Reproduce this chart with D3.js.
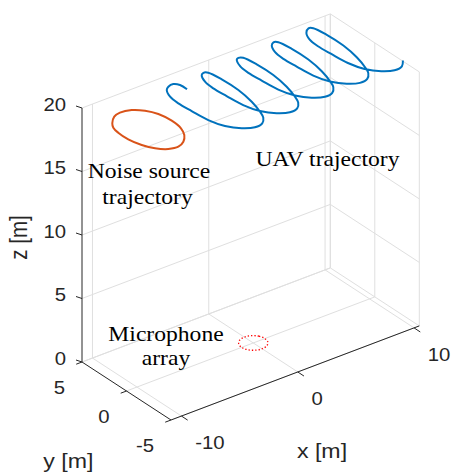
<!DOCTYPE html>
<html>
<head>
<meta charset="utf-8">
<script src="https://cdn.jsdelivr.net/npm/d3@7"></script>
<style>
  body { margin: 0; background: #fff; }
  svg { display: block; }
</style>
</head>
<body>
<div id="chart"></div>
<script>
// Axis limits and ticks
const xLim = [-10.9, 10.45]
const yLim = [-5, 5]
const zLim = [0, 20]
const xTicks = [-10, 0, 10]
const yTicks = [-5, 0, 5]
const zTicks = [0, 5, 10, 15, 20]

// UAV trajectory (flown at constant altitude)
const uavAltitude = 20
const uavX = [-3.63, -3.65, -3.94, -4.43,
  -4.79, -5.17, -5.27, -5.19, -5.04, -4.63, -3.91, -3.11, -2.38, -1.84, -1.53, -1.15, -0.90, -0.91, -1.09, -1.36,
  -1.64, -2.02, -2.12, -2.04, -1.89, -1.48, -0.76, 0.04, 0.77, 1.31, 1.62, 2.00, 2.25, 2.24, 2.06, 1.79,
  1.56, 1.18, 1.08, 1.16, 1.31, 1.72, 2.44, 3.24, 3.97, 4.51, 4.82, 5.20, 5.45, 5.44, 5.26, 4.99,
  4.63, 4.25, 4.15, 4.23, 4.38, 4.79, 5.51, 6.31, 7.04, 7.58, 7.89, 8.27, 8.52, 8.51, 8.33, 8.06,
  7.56, 7.18, 7.08, 7.16, 7.31, 7.72, 8.44, 9.24, 9.97, 10.51]
const uavY = [2.70, 3.46, 3.84, 3.75,
  3.46, 2.59, 1.53, 0.14, -1.53, -2.87, -3.81, -4.25, -4.12, -3.53, -2.76, -1.33, 0.50, 2.35, 3.63, 3.82,
  3.65, 2.78, 1.72, 0.33, -1.34, -2.68, -3.62, -4.06, -3.93, -3.34, -2.57, -1.14, 0.69, 2.54, 3.82, 4.01,
  3.89, 3.02, 1.96, 0.57, -1.10, -2.44, -3.38, -3.82, -3.69, -3.10, -2.33, -0.90, 0.93, 2.78, 4.06, 4.25,
  3.97, 3.10, 2.04, 0.65, -1.02, -2.36, -3.30, -3.74, -3.61, -3.02, -2.25, -0.82, 1.01, 2.86, 4.14, 4.33,
  3.91, 3.04, 1.98, 0.59, -1.08, -2.42, -3.36, -3.80, -3.67, -3.08]

// Noise source trajectory (closed loop)
const noiseAltitude = 20
const noiseX = [-10.53, -9.87, -9.23, -8.37, -7.70, -7.25, -7.08, -7.21, -7.59, -8.20, -8.89, -9.63, -10.29, -10.74, -11.00, -10.99, -10.84]
const noiseY = [2.08, 2.72, 2.92, 2.73, 2.10, 1.19, -0.09, -1.30, -2.17, -2.86, -3.20, -3.04, -2.41, -1.50, -0.33, 0.81, 1.56]

// Microphone array (circle on the floor)
const micZ = 0
const micX = [1, 0.87, 0.5, 0, -0.5, -0.87, -1, -0.87, -0.5, 0, 0.5, 0.87]
const micY = [0, 0.5, 0.87, 1, 0.87, 0.5, 0, -0.5, -0.87, -1, -0.87, -0.5]

var width = 452
var height = 473

// 3D box projection: origin at (xmin, ymax, 0), one screen vector per axis
const origin = [82, 362]
const vx = [248.3, -94.1]
const vy = [89, 58]
const vz = [0, -254]
const stretch = 1.13

const xS = d3.scaleLinear().domain(xLim).range([0, 1])
const yS = d3.scaleLinear().domain([yLim[1], yLim[0]]).range([0, 1])
const zS = d3.scaleLinear().domain(zLim).range([0, 1])

const P = (x, y, z) => {
  const a = xS(x), b = yS(y), c = zS(z)
  return [origin[0] + a * vx[0] + b * vy[0] + c * vz[0],
          origin[1] + a * vx[1] + b * vy[1] + c * vz[1]]
}

var svg = d3.select('#chart')
  .append('svg')
  .attr('width', width)
  .attr('height', height)

const seg = (g, p, q, color, w) => g.append('line')
  .attr('x1', p[0]).attr('y1', p[1]).attr('x2', q[0]).attr('y2', q[1])
  .attr('stroke', color).attr('stroke-width', w)

// grid on the back walls and floor
const grid = svg.append('g')
const gc = '#dfdfdf'
const [x0, x1] = xLim, [y0, y1] = yLim, [z0, z1] = zLim
xTicks.forEach(x => {
  seg(grid, P(x, y1, z0), P(x, y1, z1), gc, 1)
  seg(grid, P(x, y1, z0), P(x, y0, z0), gc, 1)
})
yTicks.forEach(y => {
  seg(grid, P(x1, y, z0), P(x1, y, z1), gc, 1)
  seg(grid, P(x0, y, z0), P(x1, y, z0), gc, 1)
})
zTicks.forEach(z => {
  seg(grid, P(x0, y1, z), P(x1, y1, z), gc, 1)
  seg(grid, P(x1, y1, z), P(x1, y0, z), gc, 1)
})
seg(grid, P(x1, y1, z0), P(x1, y1, z1), gc, 1)

// axes
const ac = '#262626'
const axes = svg.append('g')
seg(axes, P(x0, y1, z0), P(x0, y1, z1), ac, 1)
seg(axes, P(x0, y1, z0), P(x0, y0, z0), ac, 1)
seg(axes, P(x0, y0, z0), P(x1, y0, z0), ac, 1)

const tickFont = 'Liberation Sans, Arial, Helvetica, sans-serif'
const label = (txt, p, anchor, size, rot) => svg.append('text')
  .attr('transform', `translate(${p[0]},${p[1]}) scale(${stretch},1)` + (rot ? ` rotate(${rot})` : ''))
  .attr('text-anchor', anchor)
  .attr('font-family', tickFont)
  .attr('font-size', size)
  .attr('fill', ac)
  .text(txt)

zTicks.forEach(z => {
  const p = P(x0, y1, z)
  seg(axes, p, [p[0] - 6, p[1] - 2], ac, 1)
  label(String(z), [p[0] - 16, p[1] + 2.5], 'end', 18)
})
yTicks.forEach(y => {
  const p = P(x0, y, z0)
  seg(axes, p, [p[0] - 5.8, p[1] + 2.2], ac, 1)
  label(String(y), [p[0] - 17, p[1] + 31.5], 'end', 18)
})
xTicks.forEach(x => {
  const p = P(x, y0, z0)
  seg(axes, p, [p[0] + 6.2, p[1] + 4.1], ac, 1)
  label(String(x), [p[0] + 13.7, p[1] + 33.3], 'start', 18)
})

label('x [m]', [322, 458.4], 'middle', 20.5)
label('y [m]', [68.3, 468.2], 'middle', 20.5)
label('z [m]', [26.8, 237.5], 'middle', 20.5, -90)

// trajectories
const line3 = (xs, ys, z, curve) => d3.line()
  .x((d, i) => P(xs[i], ys[i], z)[0])
  .y((d, i) => P(xs[i], ys[i], z)[1])
  .curve(curve)(xs)

svg.append('path')
  .attr('d', line3(micX, micY, micZ, d3.curveCatmullRomClosed))
  .attr('fill', 'none')
  .attr('stroke', '#ff0000')
  .attr('stroke-width', 1.3)
  .attr('stroke-dasharray', '1.3 2')

svg.append('path')
  .attr('d', line3(noiseX, noiseY, noiseAltitude, d3.curveCatmullRomClosed))
  .attr('fill', 'none')
  .attr('stroke', '#D95319')
  .attr('stroke-width', 2)

svg.append('path')
  .attr('d', line3(uavX, uavY, uavAltitude, d3.curveCatmullRom))
  .attr('fill', 'none')
  .attr('stroke', '#0072BD')
  .attr('stroke-width', 2)

// annotations
const serif = 'Liberation Serif, Times New Roman, serif'
const note = (txt, x, y) => svg.append('text')
  .attr('transform', `translate(${x},${y}) scale(1.18,1)`)
  .attr('text-anchor', 'middle')
  .attr('font-family', serif)
  .attr('font-size', 20)
  .attr('fill', '#000')
  .text(txt)

note('Noise source', 149, 178)
note('trajectory', 147.5, 204)
note('UAV trajectory', 327.5, 166)
note('Microphone', 166, 341)
note('array', 166, 365)
</script>
</body>
</html>
